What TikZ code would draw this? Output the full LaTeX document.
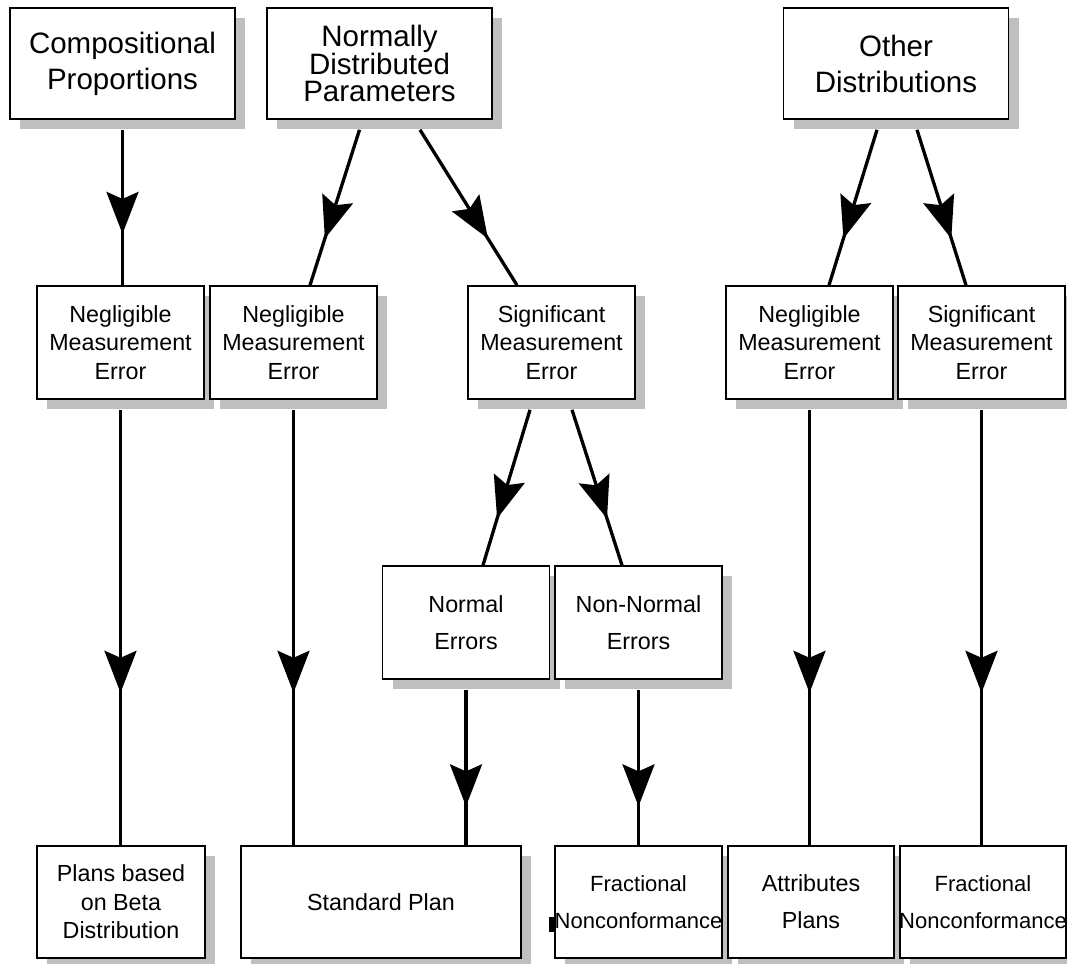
\documentclass[tikz,border=0pt]{standalone}
\usepackage{fontspec}
\setmainfont{Liberation Sans}
\usetikzlibrary{arrows.meta,shadows,decorations.markings}

\tikzset{
  block/.style={draw, fill=white, line width=1.6pt, align=center, inner sep=0pt,
    drop shadow={shadow xshift=10pt, shadow yshift=-10pt, fill=black!25, opacity=1}},
  big/.style={block, font=\fontsize{29.5}{#1}\selectfont, minimum width=225pt, minimum height=111pt},
  big/.default=27.5,
  small/.style={block, font=\fontsize{23.3}{#1}\selectfont, minimum width=167pt, minimum height=113pt},
  small/.default=28.5,
  conn/.style={line width=3.3pt, postaction={decorate},
    decoration={markings, mark=at position #1 with {\arrow{Stealth[length=42pt,width=32pt,inset=7pt]}}}},
  conn/.default=0.7
}

\begin{document}
\begin{tikzpicture}[x=1pt,y=-1pt]
\useasboundingbox (0,0) rectangle (1067,963);

% top row
\node[big=36] (comp) at (122.5,63.5) {Compositional\\Proportions};
\node[big] (ndp) at (379.5,63.5) {Normally\\Distributed\\Parameters};
\node[big=36] (other) at (896,63.5) {Other\\Distributions};

% measurement error
\node[small] (neg1) at (120.5,342.5) {Negligible\\Measurement\\Error};
\node[small] (neg2) at (293.5,342.5) {Negligible\\Measurement\\Error};
\node[small] (sig1) at (551.5,342.5) {Significant\\Measurement\\Error};
\node[small] (neg3) at (809.5,342.5) {Negligible\\Measurement\\Error};
\node[small] (sig2) at (981.5,342.5) {Significant\\Measurement\\Error};

% error types
\node[small=37] (normal) at (466,622.5) {Normal\\Errors};
\node[small=37] (nonnormal) at (638.5,622.5) {Non-Normal\\Errors};

% plans
\node[small, minimum width=168pt, minimum height=112pt] (beta) at (121,902) {Plans based\\on Beta\\Distribution};
\node[small, minimum width=280pt, minimum height=112pt] (std) at (381,902) {Standard Plan};
\node[small=37, font=\fontsize{22}{37}\selectfont, minimum height=112pt] (frac1) at (638.5,902) {Fractional\\\makebox[0pt]{Nonconformance}};
\node[small=37, minimum width=166pt, minimum height=112pt] (attr) at (811,902) {Attributes\\Plans};
\node[small=37, font=\fontsize{22}{37}\selectfont, minimum width=166pt, minimum height=112pt] (frac2) at (983,902) {Fractional\\\makebox[0pt]{Nonconformance}};
\fill (549,917) rectangle (554,932);

% connectors
\draw[conn=0.67] ([yshift=-10pt]comp.south) -- (comp.south |- neg1.north);
\draw[conn] ([xshift=-20pt,yshift=-10pt]ndp.south) -- ([xshift=16.5pt]neg2.north);
\draw[conn] ([xshift=40.5pt,yshift=-10pt]ndp.south) -- ([xshift=-34.5pt]sig1.north);
\draw[conn] ([xshift=-19pt,yshift=-10pt]other.south) -- ([xshift=19.5pt]neg3.north);
\draw[conn] ([xshift=21pt,yshift=-10pt]other.south) -- ([xshift=-15.5pt]sig2.north);

\draw[conn=0.65] ([yshift=-10pt]neg1.south) -- (neg1.south |- beta.north);
\draw[conn=0.65] ([yshift=-10pt]neg2.south) -- (neg2.south |- std.north);
\draw[conn] ([xshift=-21.5pt,yshift=-10pt]sig1.south) -- ([xshift=17pt]normal.north);
\draw[conn] ([xshift=20.5pt,yshift=-10pt]sig1.south) -- ([xshift=-16.5pt]nonnormal.north);
\draw[conn=0.65] ([yshift=-10pt]neg3.south) -- (neg3.south |- attr.north);
\draw[conn=0.65] ([yshift=-10pt]sig2.south) -- (sig2.south |- frac2.north);

\draw[conn=0.75] ([yshift=-10pt]normal.south) -- (normal.south |- std.north);
\draw[conn=0.75] ([yshift=-10pt]nonnormal.south) -- (nonnormal.south |- frac1.north);
\end{tikzpicture}
\end{document}
